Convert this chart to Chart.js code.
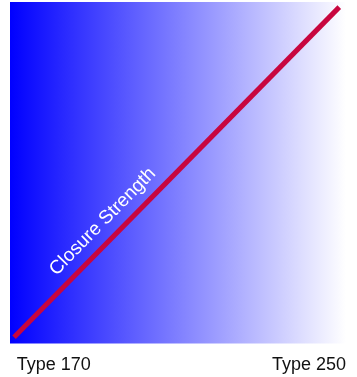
<!DOCTYPE html>
<html>
<head>
<meta charset="utf-8">
<script src="https://cdn.jsdelivr.net/npm/chart.js@4/dist/chart.umd.min.js"></script>
<style>
    html, body { margin: 0; padding: 0; background: #ffffff; }
    #wrap { width: 357px; height: 377px; }
</style>
</head>
<body>
<div id="wrap"><canvas id="myChart" width="357" height="377"></canvas></div>
<script>
    // data
    var categories = ['Type 170', 'Type 250'];
    var categoryPos = [2, 100];
    var xValues = [1.2, 98];
    var strength = [1.8, 98.5];
    var seriesLabel = 'Closure Strength';

    (function() {
        'use strict';

        var ctx = document.getElementById('myChart');

        // blue -> white background behind the plot area
        var gradientBg = {
            id: 'gradientBg',
            beforeDatasetsDraw: function(chart) {
                var a = chart.chartArea;
                var c = chart.ctx;
                var g = c.createLinearGradient(a.left, 0, a.right, 0);
                g.addColorStop(0, '#0000ff');
                g.addColorStop(1, '#ffffff');
                c.save();
                c.fillStyle = g;
                c.fillRect(a.left, a.top, a.right - a.left, a.bottom - a.top);
                c.restore();
            }
        };

        // label written along the line
        var lineLabel = {
            id: 'lineLabel',
            afterDatasetsDraw: function(chart) {
                var pts = chart.getDatasetMeta(0).data;
                var p0 = pts[0], p1 = pts[1];
                var t = 0.312;
                var x = p0.x + (p1.x - p0.x) * t;
                var y = p0.y + (p1.y - p0.y) * t;
                var ang = Math.atan2(p1.y - p0.y, p1.x - p0.x);
                var c = chart.ctx;
                c.save();
                c.translate(x, y);
                c.rotate(ang);
                c.fillStyle = '#ffffff';
                c.font = '19px "Liberation Sans", Arial, sans-serif';
                c.textAlign = 'center';
                c.textBaseline = 'middle';
                c.fillText(seriesLabel, 0, -18);
                c.restore();
            }
        };

        var points = xValues.map(function(v, i) {
            return { x: v, y: strength[i] };
        });

        new Chart(ctx, {
            type: 'line',
            data: {
                datasets: [{
                    label: seriesLabel,
                    data: points,
                    borderColor: '#c8063f',
                    borderWidth: 5,
                    pointRadius: 0,
                    tension: 0,
                    fill: false
                }]
            },
            options: {
                responsive: false,
                animation: false,
                layout: { padding: { left: 10, right: 7, top: 2, bottom: 0 } },
                plugins: {
                    legend: { display: false },
                    tooltip: { enabled: false }
                },
                scales: {
                    x: {
                        type: 'linear',
                        min: 0,
                        max: 100,
                        border: { display: false },
                        grid: { display: false, drawTicks: false },
                        afterBuildTicks: function(axis) {
                            axis.ticks = categoryPos.map(function(v) { return { value: v }; });
                        },
                        afterFit: function(axis) {
                            axis.height = 33.5;
                        },
                        ticks: {
                            align: 'inner',
                            padding: 11,
                            autoSkip: false,
                            maxRotation: 0,
                            color: '#111111',
                            font: { family: '"Liberation Sans", Arial, sans-serif', size: 18 },
                            callback: function(value) {
                                var i = categoryPos.indexOf(value);
                                return i >= 0 ? categories[i] : '';
                            }
                        }
                    },
                    y: {
                        display: false,
                        min: 0,
                        max: 100
                    }
                }
            },
            plugins: [gradientBg, lineLabel]
        });
    })();
</script>
</body>
</html>
